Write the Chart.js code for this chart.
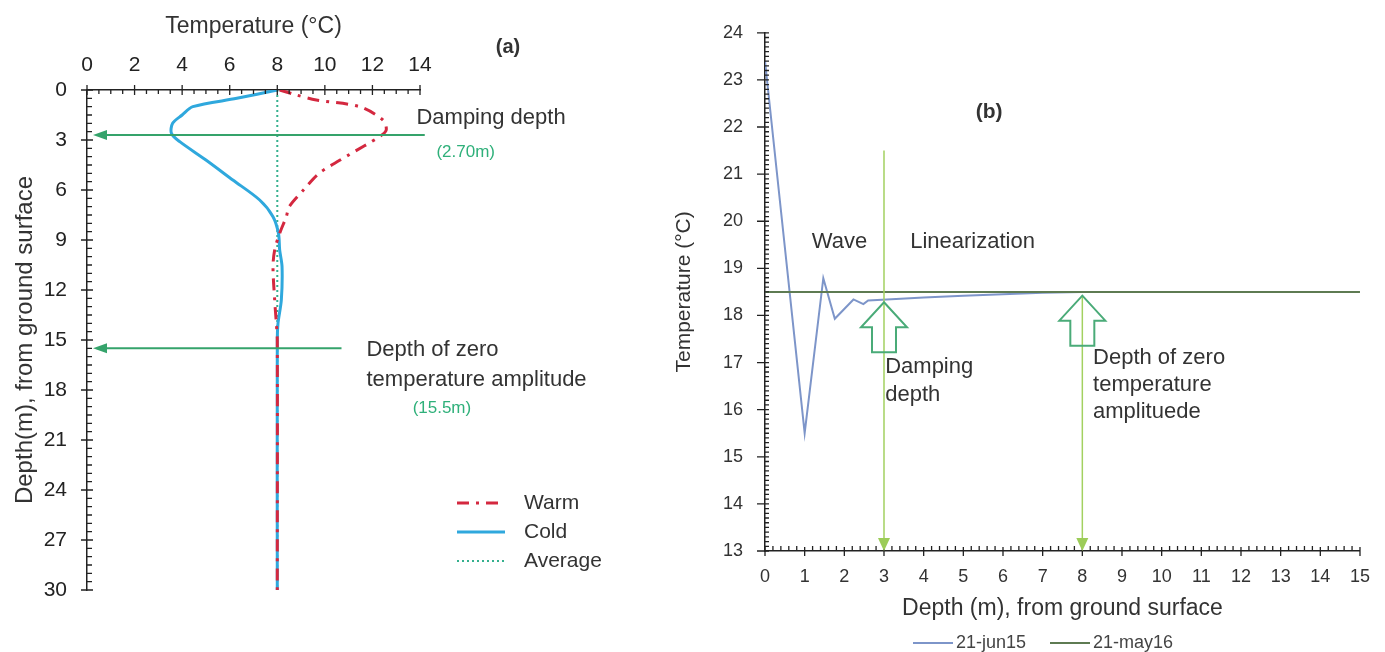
<!DOCTYPE html>
<html>
<head>
<meta charset="utf-8">
<script src="https://cdn.jsdelivr.net/npm/chart.js@4.4.1/dist/chart.umd.min.js"></script>
<style>
  body { margin: 0; background: #fff; }
  #wrap { position: relative; width: 1385px; height: 652px; }
  canvas { position: absolute; top: 0; }
  #chartA { left: 0; }
  #chartB { left: 640px; }
</style>
</head>
<body>
<div id="wrap">
  <canvas id="chartA" width="640" height="652"></canvas>
  <canvas id="chartB" width="745" height="652"></canvas>
</div>
<script>
// ---- (a) temperature profiles against depth ----
const tempTicks = [0, 2, 4, 6, 8, 10, 12, 14]
const depthTicks = [0, 3, 6, 9, 12, 15, 18, 21, 24, 27, 30]

const warmDepth = [0, 0.3, 0.6, 1.0, 1.8, 2.4, 2.8, 3.9, 5.0, 6.0, 7.0, 7.6, 8.6, 9.6, 10.6, 12.6, 14.0, 15, 30]
const warmTemp = [8.1, 8.8, 9.64, 11.46, 12.44, 12.58, 12.3, 11.0, 9.76, 9.1, 8.5, 8.38, 8.1, 7.89, 7.82, 7.89, 7.96, 8.0, 8.0]

const coldDepth = [0, 0.5, 1.0, 1.5, 2.0, 2.6, 3.1, 4.2, 5.4, 6.6, 7.6, 8.6, 9.6, 10.6, 12.6, 14.0, 15, 30]
const coldTemp = [8.0, 6.3, 4.45, 4.0, 3.6, 3.55, 3.9, 5.0, 6.13, 7.26, 7.82, 8.05, 8.1, 8.2, 8.17, 8.03, 8.0, 8.0]

const avgDepth = [0, 30]
const avgTemp = [8, 8]

// arrows pointing at damping depth and depth of zero amplitude
const arrowDepth = [2.7, 15.5]
const arrowFrom = [14.2, 10.7]

// ---- (b) measured profiles ----
const bDepthTicks = [0, 1, 2, 3, 4, 5, 6, 7, 8, 9, 10, 11, 12, 13, 14, 15]
const bTempTicks = [13, 14, 15, 16, 17, 18, 19, 20, 21, 22, 23, 24]

const jun15Depth = [0, 1.0, 1.47, 1.76, 2.23, 2.48, 2.6, 3.07, 4, 5, 6, 7, 8]
const jun15Temp = [23.4, 15.5, 18.79, 17.93, 18.34, 18.24, 18.32, 18.34, 18.38, 18.42, 18.45, 18.48, 18.5]

const may16Depth = [0, 15]
const may16Temp = [18.5, 18.5]

const markerDepth = [3, 8]
const markerTop = [21.5, 18.42]
const markerTip = [18.28, 18.42]

const pts = (xs, ys) => xs.map((v, i) => ({ x: v, y: ys[i] }))
const setTicks = list => scale => { scale.ticks = list.map(v => ({ value: v })) }

const ARIAL = '"Liberation Sans", Arial, sans-serif'
const NARROW = '"Liberation Sans Narrow", "Liberation Sans", Arial, sans-serif'
const GREEN = '#35a36b'

const axisTicks = {
  id: 'axisTicks',
  afterDraw(chart, args, opts) {
    const { ctx, chartArea: area } = chart
    ctx.save()
    ctx.strokeStyle = opts.color
    ctx.lineWidth = opts.width
    ctx.beginPath()
    opts.axes.forEach(a => {
      const s = chart.scales[a.id]
      const n = Math.round((s.max - s.min) / a.minor)
      for (let i = 0; i <= n; i++) {
        const v = s.min + i * a.minor
        const major = Math.abs(v / a.major - Math.round(v / a.major)) < 1e-6
        const [out, inn] = major ? a.majorLen : a.minorLen
        const p = s.getPixelForValue(v)
        if (a.edge === 'top') { ctx.moveTo(p, area.top - out); ctx.lineTo(p, area.top + inn) }
        if (a.edge === 'bottom') { ctx.moveTo(p, area.bottom + out); ctx.lineTo(p, area.bottom - inn) }
        if (a.edge === 'left') { ctx.moveTo(area.left - out, p); ctx.lineTo(area.left + inn, p) }
      }
    })
    ctx.stroke()
    ctx.restore()
  }
}

function drawNotes(chart, notes) {
  const { ctx, scales: { x, y } } = chart
  ctx.save()
  ctx.textBaseline = 'middle'
  notes.forEach(n => {
    ctx.font = (n.bold ? 'bold ' : '') + (n.size || 22) + 'px ' + ARIAL
    ctx.fillStyle = n.color || '#333'
    ctx.textAlign = n.align || 'left'
    ctx.fillText(n.text, x.getPixelForValue(n.x), y.getPixelForValue(n.y))
  })
  ctx.restore()
}

function drawLegend(chart, o) {
  const { ctx } = chart
  ctx.save()
  ctx.textBaseline = 'middle'
  ctx.font = o.font
  chart.data.datasets.forEach((ds, i) => {
    const lx = o.x + i * o.dx
    const ly = o.y + i * o.dy
    ctx.strokeStyle = ds.borderColor
    ctx.lineWidth = ds.borderWidth
    ctx.setLineDash(ds.borderDash || [])
    ctx.beginPath()
    ctx.moveTo(lx, ly)
    ctx.lineTo(lx + o.sample, ly)
    ctx.stroke()
    ctx.setLineDash([])
    ctx.fillStyle = o.color
    ctx.fillText(ds.label, lx + o.sample + o.gap, ly)
  })
  ctx.restore()
}

const panelA = {
  id: 'panelA',
  afterDraw(chart) {
    const { ctx, scales: { x, y } } = chart
    ctx.save()
    ctx.strokeStyle = GREEN
    ctx.fillStyle = GREEN
    ctx.lineWidth = 2
    arrowDepth.forEach((d, i) => {
      const py = y.getPixelForValue(d)
      const tip = x.getPixelForValue(0) + 6
      ctx.beginPath()
      ctx.moveTo(x.getPixelForValue(arrowFrom[i]), py)
      ctx.lineTo(tip + 10, py)
      ctx.stroke()
      ctx.beginPath()
      ctx.moveTo(tip, py)
      ctx.lineTo(tip + 14, py - 5)
      ctx.lineTo(tip + 14, py + 5)
      ctx.closePath()
      ctx.fill()
    })
    ctx.restore()

    drawNotes(chart, [
      { text: '(a)', x: 17.7, y: -2.58, bold: true, size: 20, align: 'center' },
      { text: 'Damping depth', x: 13.85, y: 1.65 },
      { text: '(2.70m)', x: 14.69, y: 3.75, size: 17, color: '#2fb07a' },
      { text: 'Depth of zero', x: 11.75, y: 15.6 },
      { text: 'temperature amplitude', x: 11.75, y: 17.4 },
      { text: '(15.5m)', x: 13.69, y: 19.1, size: 17, color: '#2fb07a' }
    ])
    drawLegend(chart, { x: 457, y: 503, dx: 0, dy: 29, sample: 48, gap: 19, font: '21px ' + ARIAL, color: '#333' })
  }
}

const panelB = {
  id: 'panelB',
  afterDraw(chart) {
    const { ctx, chartArea: area, scales: { x, y } } = chart
    ctx.save()
    // vertical guides ending in a small arrowhead on the depth axis
    markerDepth.forEach((d, i) => {
      const px = x.getPixelForValue(d)
      ctx.strokeStyle = '#a3d160'
      ctx.fillStyle = '#9ccc58'
      ctx.lineWidth = 1.5
      ctx.beginPath()
      ctx.moveTo(px, y.getPixelForValue(markerTop[i]))
      ctx.lineTo(px, area.bottom - 10)
      ctx.stroke()
      ctx.beginPath()
      ctx.moveTo(px, area.bottom)
      ctx.lineTo(px - 6, area.bottom - 13)
      ctx.lineTo(px + 6, area.bottom - 13)
      ctx.closePath()
      ctx.fill()
    })
    // hollow block arrows
    ctx.strokeStyle = '#4aab78'
    ctx.lineWidth = 2
    markerDepth.forEach((d, i) => {
      const px = x.getPixelForValue(d)
      const py = y.getPixelForValue(markerTip[i])
      ctx.beginPath()
      ctx.moveTo(px, py)
      ctx.lineTo(px + 23, py + 25)
      ctx.lineTo(px + 12, py + 25)
      ctx.lineTo(px + 12, py + 50)
      ctx.lineTo(px - 12, py + 50)
      ctx.lineTo(px - 12, py + 25)
      ctx.lineTo(px - 23, py + 25)
      ctx.closePath()
      ctx.stroke()
    })
    ctx.restore()

    drawNotes(chart, [
      { text: '(b)', x: 5.65, y: 22.31, bold: true, size: 21, align: 'center' },
      { text: 'Wave', x: 1.18, y: 19.55 },
      { text: 'Linearization', x: 3.66, y: 19.55 },
      { text: 'Damping', x: 3.03, y: 16.91 },
      { text: 'depth', x: 3.03, y: 16.32 },
      { text: 'Depth of zero', x: 8.27, y: 17.1 },
      { text: 'temperature', x: 8.27, y: 16.52 },
      { text: 'amplituede', x: 8.27, y: 15.95 }
    ])
    drawLegend(chart, { x: 273, y: 643, dx: 137, dy: 0, sample: 40, gap: 3, font: '18px ' + NARROW, color: '#444' })
  }
}

new Chart(document.getElementById('chartA'), {
  type: 'line',
  data: {
    datasets: [
      {
        label: 'Warm',
        data: pts(warmTemp, warmDepth),
        borderColor: '#d4283f',
        borderWidth: 3,
        borderDash: [12, 7, 3, 7],
        tension: 0.3,
        pointRadius: 0
      },
      {
        label: 'Cold',
        data: pts(coldTemp, coldDepth),
        borderColor: '#2fa8dd',
        borderWidth: 3,
        tension: 0.3,
        pointRadius: 0
      },
      {
        label: 'Average',
        data: pts(avgTemp, avgDepth),
        borderColor: '#35b08e',
        borderWidth: 2,
        borderDash: [2, 3],
        pointRadius: 0
      }
    ]
  },
  options: {
    responsive: false,
    animation: false,
    layout: { padding: { left: 2, right: 220, top: 0, bottom: 62 } },
    plugins: {
      legend: { display: false },
      tooltip: { enabled: false },
      axisTicks: {
        color: '#222',
        width: 1.3,
        axes: [
          { id: 'x', edge: 'top', minor: 0.5, major: 2, majorLen: [5, 5], minorLen: [0, 4] },
          { id: 'y', edge: 'left', minor: 0.5, major: 3, majorLen: [6, 6], minorLen: [0, 5] }
        ]
      }
    },
    scales: {
      x: {
        type: 'linear',
        position: 'top',
        min: 0,
        max: 14,
        afterBuildTicks: setTicks(tempTicks),
        afterFit: s => { s.height = 90 },
        grid: { display: false, drawTicks: false },
        border: { color: '#222', width: 1.5 },
        ticks: { padding: 12, color: '#222', font: { family: ARIAL, size: 21 } },
        title: {
          display: true,
          text: 'Temperature (°C)',
          color: '#333',
          padding: { top: 13, bottom: 0 },
          font: { family: ARIAL, size: 23 }
        }
      },
      y: {
        type: 'linear',
        reverse: true,
        min: 0,
        max: 30,
        afterBuildTicks: setTicks(depthTicks),
        afterFit: s => { s.width = 85 },
        grid: { display: false, drawTicks: false },
        border: { color: '#222', width: 1.5 },
        ticks: { padding: 20, color: '#222', font: { family: ARIAL, size: 21 } },
        title: {
          display: true,
          text: 'Depth(m), from ground surface',
          color: '#333',
          padding: { top: 9, bottom: 0 },
          font: { family: ARIAL, size: 24 }
        }
      }
    }
  },
  plugins: [axisTicks, panelA]
})

new Chart(document.getElementById('chartB'), {
  type: 'line',
  data: {
    datasets: [
      {
        label: '21-jun15',
        data: pts(jun15Depth, jun15Temp),
        borderColor: '#7d95c9',
        borderWidth: 2,
        pointRadius: 0,
        order: 1
      },
      {
        label: '21-may16',
        data: pts(may16Depth, may16Temp),
        borderColor: '#5e7b52',
        borderWidth: 2,
        pointRadius: 0,
        order: 0
      }
    ]
  },
  options: {
    responsive: false,
    animation: false,
    layout: { padding: { left: 20, right: 25, top: 17, bottom: 21 } },
    plugins: {
      legend: { display: false },
      tooltip: { enabled: false },
      axisTicks: {
        color: '#222',
        width: 1.3,
        axes: [
          { id: 'x', edge: 'bottom', minor: 0.2, major: 1, majorLen: [5, 4], minorLen: [0, 5] },
          { id: 'y', edge: 'left', minor: 0.1, major: 1, majorLen: [8, 4], minorLen: [0, 4] }
        ]
      }
    },
    scales: {
      x: {
        type: 'linear',
        min: 0,
        max: 15,
        afterBuildTicks: setTicks(bDepthTicks),
        afterFit: s => { s.height = 80 },
        grid: { display: false, drawTicks: false },
        border: { color: '#222', width: 1.5 },
        ticks: { padding: 15, color: '#333', font: { family: NARROW, size: 18 } },
        title: {
          display: true,
          text: 'Depth (m), from ground surface',
          color: '#333',
          padding: { top: 0, bottom: 9 },
          font: { family: ARIAL, size: 23 }
        }
      },
      y: {
        type: 'linear',
        min: 13,
        max: 24,
        afterBuildTicks: setTicks(bTempTicks),
        afterFit: s => { s.width = 105 },
        grid: { display: false, drawTicks: false },
        border: { color: '#222', width: 1.5 },
        ticks: { padding: 22, color: '#333', font: { family: NARROW, size: 18 } },
        title: {
          display: true,
          text: 'Temperature (°C)',
          color: '#333',
          padding: { top: 12, bottom: 0 },
          font: { family: ARIAL, size: 21 }
        }
      }
    }
  },
  plugins: [axisTicks, panelB]
})
</script>
</body>
</html>
